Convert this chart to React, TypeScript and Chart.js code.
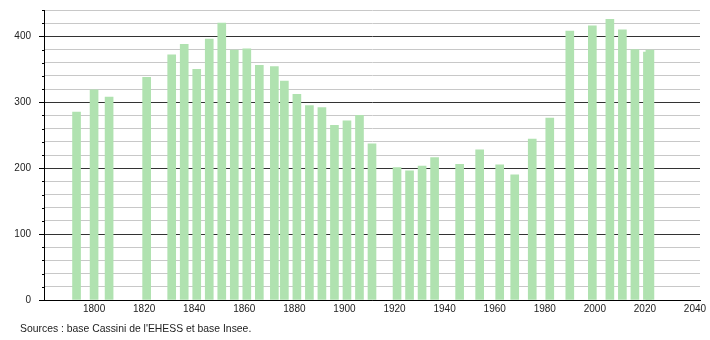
import React, { useEffect, useRef } from "react";
import { Chart, registerables } from "chart.js";

Chart.register(...registerables);

const years = [1793, 1800, 1806, 1821, 1831, 1836, 1841, 1846, 1851, 1856, 1861, 1866, 1872, 1876, 1881, 1886, 1891, 1896, 1901, 1906, 1911, 1921, 1926, 1931, 1936, 1946, 1954, 1962, 1968, 1975, 1982, 1990, 1999, 2006, 2011, 2016, 2021, 2022];
const population = [285, 319, 308, 338, 372, 388, 350, 396, 420, 379, 381, 356, 354, 332, 312, 295, 292, 265, 272, 280, 237, 201, 196, 203, 216, 206, 228, 205, 190, 244, 276, 408, 416, 426, 410, 380, 376, 379];
const xRange = [1780, 2042];
const yRange = [0, 440];
const sourceText = "Sources : base Cassini de l'EHESS et base Insee.";

const FONT = "'Liberation Sans', Arial, Helvetica, sans-serif";

const minorTicks = {
  id: "minorTicks",
  afterDraw(chart: any) {
    const s = chart.scales.y;
    const ctx = chart.ctx;
    ctx.save();
    ctx.strokeStyle = "#000";
    ctx.lineWidth = 1;
    s.ticks.forEach((t: any) => {
      if (t.value % 100 !== 0) {
        const y = Math.round(s.getPixelForValue(t.value)) + 0.5;
        ctx.beginPath();
        ctx.moveTo(s.right - 2, y);
        ctx.lineTo(s.right, y);
        ctx.stroke();
      }
    });
    ctx.restore();
  },
};

export default function App() {
  const ref = useRef<HTMLCanvasElement>(null);
  useEffect(() => {
    document.body.style.margin = "0";
    const chart = new Chart(ref.current!, {
      type: "bar",
      data: {
        datasets: [
          {
            data: years.map((y, i) => ({ x: y, y: population[i] })),
            backgroundColor: "rgb(176,226,176)",
            borderWidth: 0,
            barThickness: 8,
          },
        ],
      },
      options: {
        animation: false,
        responsive: false,
        layout: { padding: { top: 10, right: 10, bottom: 0, left: 0 } },
        plugins: { legend: { display: false }, tooltip: { enabled: false } },
        scales: {
          x: {
            type: "linear",
            offset: false,
            min: xRange[0],
            max: xRange[1],
            grid: { display: false, drawTicks: false, offset: false },
            border: { color: "#000", width: 1 },
            ticks: {
              stepSize: 20,
              includeBounds: false,
              maxRotation: 0,
              autoSkip: false,
              padding: 3,
              color: "#222",
              font: { family: FONT, size: 10 },
              callback: (v: any) => (v >= 1800 ? String(v) : ""),
            },
            afterFit: (s: any) => {
              s.height = 40;
              s.paddingLeft = 0;
              s.paddingRight = 0;
            },
          },
          y: {
            min: yRange[0],
            max: yRange[1],
            grid: {
              color: (c: any) => (c.tick && c.tick.value % 100 === 0 ? "#333" : "#c8c8c8"),
              tickColor: (c: any) => (c.tick && c.tick.value % 100 === 0 ? "#000" : "rgba(0,0,0,0)"),
              tickLength: 5,
              lineWidth: 1,
            },
            border: { color: "#000", width: 1 },
            ticks: {
              stepSize: 20,
              autoSkip: false,
              padding: 8,
              color: "#222",
              font: { family: FONT, size: 10 },
              callback: (v: any) => (v % 100 === 0 ? String(v) : ""),
            },
            afterFit: (s: any) => {
              s.width = 44;
              s.paddingTop = 0;
              s.paddingBottom = 0;
            },
          },
        },
      },
      plugins: [minorTicks],
    });
    return () => chart.destroy();
  }, []);
  return (
    <div style={{ position: "relative", width: 710, height: 340, background: "#fff" }}>
      <canvas ref={ref} width={710} height={340} />
      <div
        style={{
          position: "absolute",
          left: 20,
          top: 322,
          fontFamily: FONT,
          fontSize: 10.4,
          color: "#222",
          whiteSpace: "nowrap",
          lineHeight: "14px",
        }}
      >
        {sourceText}
      </div>
    </div>
  );
}
